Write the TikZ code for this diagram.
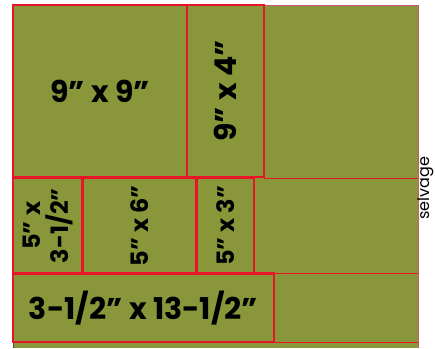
\documentclass[tikz,border=0pt]{standalone}
\usepackage{fontspec}
\setmainfont{Poppins}
\definecolor{fabric}{RGB}{137,150,58}
\definecolor{cutred}{RGB}{232,20,40}
\definecolor{edgepink}{RGB}{200,90,110}
\begin{document}
\begin{tikzpicture}[x=1pt,y=-1pt,
  piece/.style={draw=cutred, line width=2.6pt, inner sep=0pt, align=center, text=black},
  bigtxt/.style={font=\fontsize{30}{32}\selectfont\bfseries},
  midtxt/.style={font=\fontsize{24}{28}\selectfont\bfseries},
  guide/.style={draw=cutred, line width=0.8pt}]
\useasboundingbox (0,0) rectangle (435,348);
\fill[white] (0,0) rectangle (435,348);
\fill[fabric] (13,5) rectangle (418,348);
\draw[edgepink, line width=0.8pt] (13,5) -- (418,5) -- (418,348);
\draw[black!70, line width=0.8pt] (13,5) -- (13,348);
\coordinate (g1l) at (264,178); \coordinate (g1r) at (418,178);
\coordinate (g2l) at (254,273.5); \coordinate (g2r) at (418,273.5);
\coordinate (g3l) at (274,342); \coordinate (g3r) at (418,342);
\draw[guide] (g1l) -- (g1r);
\draw[guide] (g2l) -- (g2r);
\draw[guide] (g3l) -- (g3r);
% row 1
\node[piece, bigtxt, minimum width=174pt, minimum height=172pt] (p99) at (100,91) {9” x 9”};
\node[piece, bigtxt, rotate=90, minimum width=172pt, minimum height=77pt] (p94) at (225.5,91) {9” x 4”};
% row 2
\node[piece, midtxt, rotate=90, minimum width=95.5pt, minimum height=69pt] (p535) at (47.5,225.75) {5” x\\3-1/2”};
\node[piece, midtxt, rotate=90, minimum width=95.5pt, minimum height=114pt] (p56) at (139.5,225.75) {5” x 6”};
\node[piece, midtxt, rotate=90, minimum width=95.5pt, minimum height=57pt] (p53) at (225.5,225.75) {5” x 3”};
% row 3
\node[piece, bigtxt, minimum width=261pt, minimum height=68.5pt] (p35) at (143.5,307.75) {3-1/2” x 13-1/2”};
% selvage
\node[rotate=90, font=\fontsize{16}{16}\selectfont, inner sep=0pt] (selv) at (426,188) {selvage};
\end{tikzpicture}
\end{document}
